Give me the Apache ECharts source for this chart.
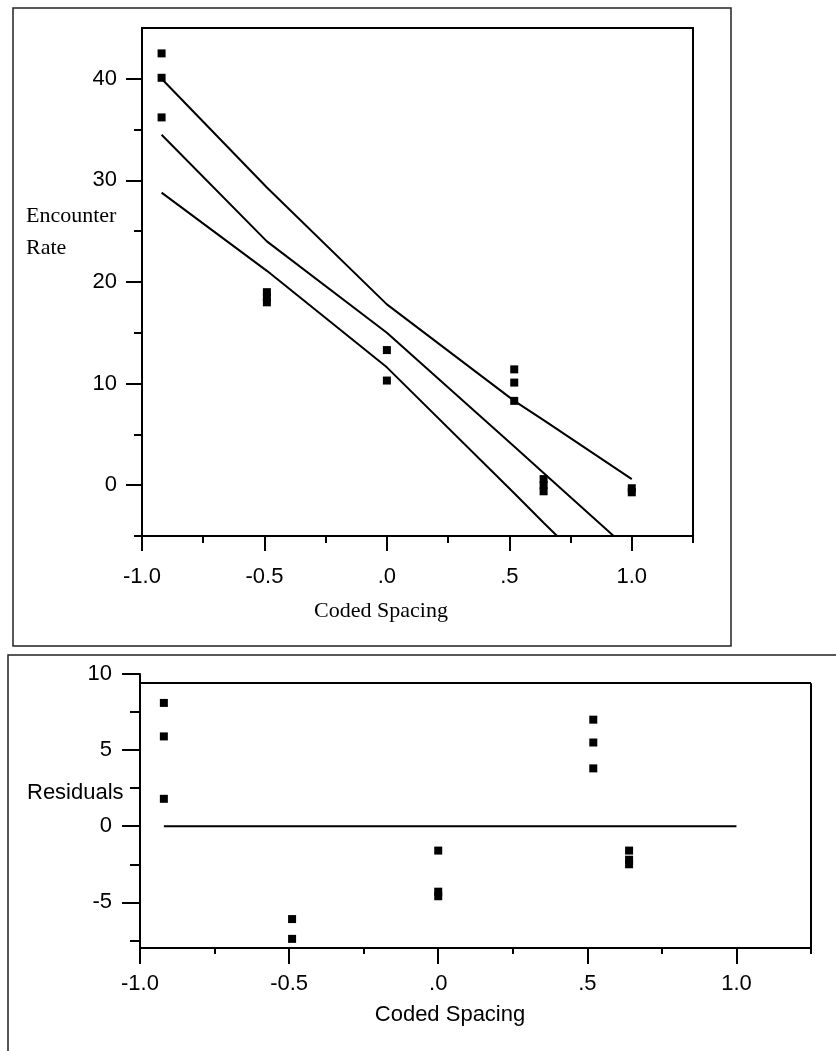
<!DOCTYPE html>
<html>
<head>
<meta charset="utf-8">
<title>Encounter Rate / Residuals vs Coded Spacing</title>
<script src="https://cdn.jsdelivr.net/npm/echarts@6.0.0/dist/echarts.min.js"></script>
<style>
	html, body { margin:0; padding:0; background:#fff; }
	#main { width:836px; height:1051px; }
</style>
</head>
<body>
<div id="main"></div>
<script>
	// upper plot: observed points
	var spacingX = [-0.92, -0.92, -0.92, -0.49, -0.49, -0.49, 0, 0, 0.52, 0.52, 0.52, 0.64, 0.64, 0.64, 1.0, 1.0];
	var encounterRate = [42.5, 40.1, 36.2, 19.0, 18.5, 18.0, 13.3, 10.3, 11.4, 10.1, 8.3, 0.6, 0, -0.6, -0.3, -0.7];

	// upper plot: fitted line and its two bands
	var fitX = [-0.92, -0.49, 0, 0.52, 0.64, 1.0];
	var fitUpper = [40.0, 29.3, 17.8, 8.3, 6.4, 0.6];
	var fitMiddle = [34.5, 24.0, 15.0, 3.8, 1.2, -6.6];
	var fitLower = [28.8, 21.1, 11.6, -0.8, -3.7, -12.2];

	// lower plot: residuals
	var residX = [-0.92, -0.92, -0.92, -0.49, -0.49, 0, 0, 0, 0.52, 0.52, 0.52, 0.64, 0.64, 0.64];
	var residuals = [8.1, 5.9, 1.8, -6.1, -7.4, -1.6, -4.3, -4.6, 7.0, 5.5, 3.8, -1.6, -2.2, -2.5];
	var zeroX = [-0.92, 1.0];
	var zeroY = [0, 0];

	// ticks
	var xTicks = [-1, -0.5, 0, 0.5, 1];
	var xTickLabels = ['-1.0', '-0.5', '.0', '.5', '1.0'];
	var xMinorTicks = [-0.75, -0.25, 0.25, 0.75, 1.25];
	var rateTicks = [0, 10, 20, 30, 40];
	var rateMinorTicks = [-5, 5, 15, 25, 35];
	var residTicks = [-5, 0, 5, 10];
	var residMinorTicks = [-7.5, -2.5, 2.5, 7.5];

	var SANS = '"Liberation Sans", Arial, Helvetica, sans-serif';
	var SERIF = '"Liberation Serif", "Times New Roman", serif';
	var black = '#000';

	function pairs(xs, ys) {
		return xs.map(function(x, i) { return [x, ys[i]]; });
	}

	function fmtX(v) {
		var i = xTicks.indexOf(v);
		return i >= 0 ? xTickLabels[i] : '';
	}

	// 主轴 / 次刻度轴
	function xAxisPair(grid, tickLen, minorLen, margin) {
		return [
			{
				gridIndex: grid, type: 'value', position: 'bottom', min: -1, max: 1.25,
				axisLine: { onZero: false, lineStyle: { color: black, width: 2 } },
				axisTick: { customValues: xTicks, length: tickLen, lineStyle: { color: black, width: 2 } },
				axisLabel: { customValues: xTicks, formatter: fmtX, margin: margin, color: black, fontSize: 22, fontFamily: SANS },
				splitLine: { show: false }
			},
			{
				gridIndex: grid, type: 'value', position: 'bottom', min: -1, max: 1.25,
				axisLine: { show: false, onZero: false },
				axisTick: { customValues: xMinorTicks, length: minorLen, lineStyle: { color: black, width: 2 } },
				axisLabel: { show: false },
				splitLine: { show: false }
			}
		];
	}

	function yAxisPair(grid, min, max, ticks, minor, tickLen, minorLen, margin) {
		return [
			{
				gridIndex: grid, type: 'value', position: 'left', min: min, max: max,
				axisLine: { onZero: false, lineStyle: { color: black, width: 2 } },
				axisTick: { customValues: ticks, length: tickLen, lineStyle: { color: black, width: 2 } },
				axisLabel: { customValues: ticks, margin: margin, color: black, fontSize: 22, fontFamily: SANS },
				splitLine: { show: false }
			},
			{
				gridIndex: grid, type: 'value', position: 'left', min: min, max: max,
				axisLine: { show: false, onZero: false },
				axisTick: { customValues: minor, length: minorLen, lineStyle: { color: black, width: 2 } },
				axisLabel: { show: false },
				splitLine: { show: false }
			}
		];
	}

	function fitLine(ys) {
		return {
			type: 'line', xAxisIndex: 0, yAxisIndex: 0,
			data: pairs(fitX, ys),
			showSymbol: false, symbol: 'none',
			lineStyle: { color: black, width: 2 }
		};
	}

	var myChart = echarts.init(document.getElementById('main'), null, { renderer: 'canvas' });

	var option = {
		animation: false,
		backgroundColor: '#fff',
		grid: [
			{ left: 142, top: 28, width: 551, height: 508, show: true, borderColor: black, borderWidth: 2, containLabel: false },
			{ left: 140, top: 674, width: 671, height: 274, containLabel: false }
		],
		xAxis: xAxisPair(0, 15, 7, 30).concat(xAxisPair(1, 16, 6, 25)),
		yAxis: yAxisPair(0, -5, 45, rateTicks, rateMinorTicks, 16, 8, 25)
			.concat(yAxisPair(1, -8, 10, residTicks, residMinorTicks, 18, 10, 28)),
		graphic: [
			// outer frames
			{ type: 'rect', shape: { x: 13, y: 8, width: 718, height: 638 }, style: { fill: 'none', stroke: '#222', lineWidth: 1.5 } },
			{ type: 'rect', shape: { x: 8, y: 655, width: 840, height: 420 }, style: { fill: 'none', stroke: '#222', lineWidth: 1.5 } },
			{ type: 'text', left: 26, top: 200, style: { text: 'Encounter\nRate', font: '22px ' + SERIF, fill: black, lineHeight: 32 } },
			{ type: 'text', x: 381, y: 611, style: { text: 'Coded Spacing', font: '22px ' + SERIF, fill: black, align: 'center', verticalAlign: 'middle' } },
			{ type: 'text', x: 27, y: 793, style: { text: 'Residuals', font: '22px ' + SANS, fill: black, verticalAlign: 'middle' } },
			{ type: 'text', x: 450, y: 1015, style: { text: 'Coded Spacing', font: '22px ' + SANS, fill: black, align: 'center', verticalAlign: 'middle' } }
		],
		series: [
			{
				type: 'scatter', xAxisIndex: 0, yAxisIndex: 0,
				data: pairs(spacingX, encounterRate),
				symbol: 'rect', symbolSize: 8,
				itemStyle: { color: black, opacity: 1 }
			},
			fitLine(fitUpper),
			fitLine(fitMiddle),
			fitLine(fitLower),
			{
				type: 'scatter', xAxisIndex: 2, yAxisIndex: 2,
				data: pairs(residX, residuals),
				symbol: 'rect', symbolSize: 8,
				itemStyle: { color: black, opacity: 1 }
			},
			{
				type: 'line', xAxisIndex: 2, yAxisIndex: 2,
				data: pairs(zeroX, zeroY),
				showSymbol: false, symbol: 'none',
				lineStyle: { color: black, width: 2 },
				// top and right edge of the residual frame
				markLine: {
					silent: true, symbol: ['none', 'none'],
					label: { show: false },
					lineStyle: { color: black, width: 2, type: 'solid' },
					data: [
						[{ coord: [-1, 9.4] }, { coord: [1.25, 9.4] }],
						[{ coord: [1.25, 9.4] }, { coord: [1.25, -8] }]
					]
				}
			}
		]
	};
	myChart.setOption(option);
</script>
</body>
</html>
